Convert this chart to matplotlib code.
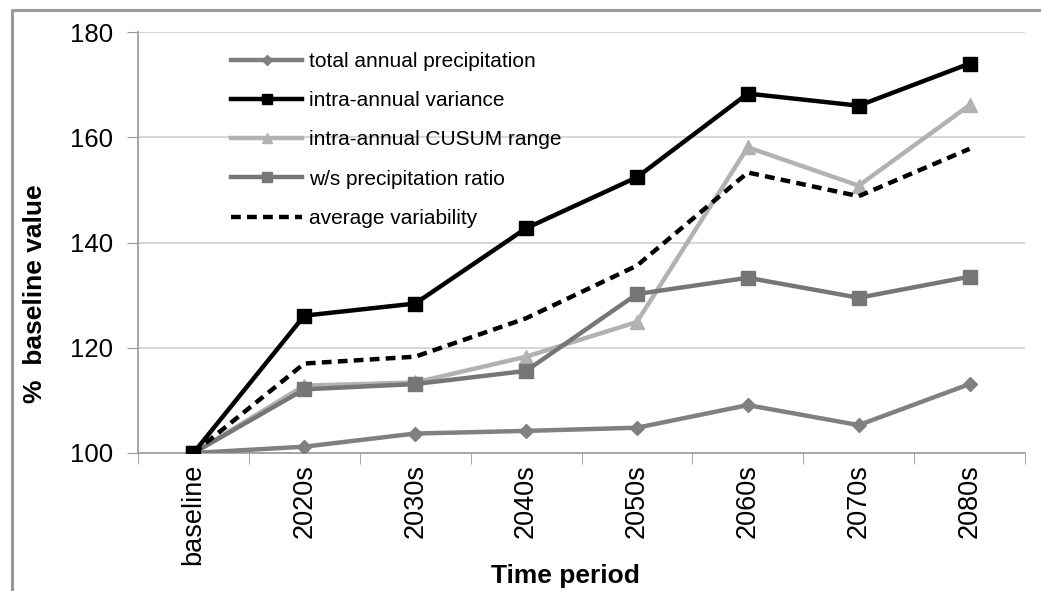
import matplotlib
matplotlib.use("Agg")
import matplotlib.pyplot as plt
from matplotlib.lines import Line2D

plt.rcParams['font.family'] = ['Liberation Sans', 'DejaVu Sans']

periods = ["baseline", "2020s", "2030s", "2040s", "2050s", "2060s", "2070s", "2080s"]
total_annual = [100, 101.2, 103.7, 104.2, 104.8, 109.1, 105.3, 113.1]
intra_variance = [100, 126.1, 128.4, 142.7, 152.4, 168.3, 166.0, 174.0]
cusum_range = [100, 112.8, 113.4, 118.3, 124.9, 158.1, 150.8, 166.1]
ws_ratio = [100, 112.1, 113.1, 115.6, 130.2, 133.3, 129.5, 133.5]
avg_var = [100, 117.0, 118.3, 125.6, 135.6, 153.3, 148.8, 157.8]

W, H = 1041, 591
fig = plt.figure(figsize=(W/100, H/100), dpi=100)
ax = fig.add_axes([138/W, 1-453/H, (1025-138)/W, (453-32)/H])

x = list(range(len(periods)))
ax.plot(x, total_annual, color='#808080', lw=3.2, marker='D', ms=7, label='total annual precipitation', zorder=3)
ax.plot(x, intra_variance, color='black', lw=3.2, marker='s', ms=10, label='intra-annual variance', zorder=5)
ax.plot(x, cusum_range, color='#b2b2b2', lw=3.2, marker='^', ms=10, label='intra-annual CUSUM range', zorder=4)
ax.plot(x, ws_ratio, color='#767676', lw=3.2, marker='s', ms=10, label='w/s precipitation ratio', zorder=4)
ax.plot(x, avg_var, color='black', lw=3.2, ls=(0, (2.2, 1.4)), label='average variability', zorder=6)

ax.set_xlim(-0.5, len(periods) - 0.5)
ax.set_ylim(100, 180)
ax.set_yticks([100, 120, 140, 160, 180])
ax.tick_params(axis='y', labelsize=18.5, length=8, color='#999999', direction='out', pad=10)
ax.set_xticks(x)
ax.set_xticklabels(periods, rotation=90, fontsize=19.5)
ax.tick_params(axis='x', length=0, pad=8)
ax.set_xticks([i - 0.5 for i in range(len(periods) + 1)], minor=True)
ax.tick_params(axis='x', which='minor', length=8, color='#999999', direction='out')
ax.grid(axis='y', color='#d0d0d0', lw=1.2)
ax.set_axisbelow(True)
for s in ['top', 'right']:
    ax.spines[s].set_visible(False)
for s in ['left', 'bottom']:
    ax.spines[s].set_color('#999999')
    ax.spines[s].set_linewidth(1.2)

fig.text(565/W, 1-576/H, 'Time period', fontsize=19, fontweight='bold', ha='center', va='center')
fig.text(35/W, 1-294/H, '%  baseline value', fontsize=19, fontweight='bold', ha='center', va='center',
         rotation=90)

leg = ax.legend(loc='upper left', bbox_to_anchor=(0.084, 0.997), frameon=False, fontsize=15,
                handlelength=3.4, labelspacing=0.97, handletextpad=0.35, markerscale=0.7)

fig.add_artist(Line2D([12/W, 12/W, 1.0], [0, 1-10/H, 1-10/H], transform=fig.transFigure,
                      color='#9a9a9a', lw=2.2))

fig.savefig('out.png', dpi=100)
